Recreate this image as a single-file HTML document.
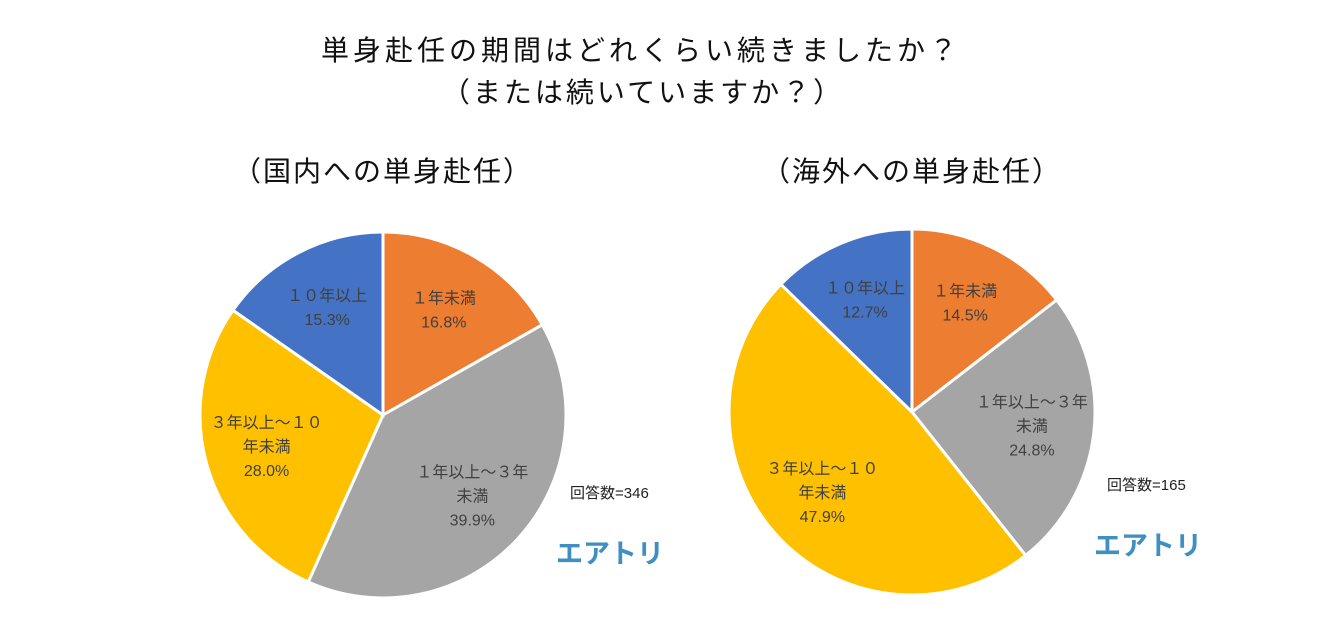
<!DOCTYPE html>
<html><head><meta charset="utf-8">
<style>
body{margin:0;background:#fff;}
svg{display:block;font-family:"Liberation Sans","Noto Sans CJK JP",sans-serif;}
</style></head><body>
<svg id="c" width="1318" height="617">
<text x="641" y="60" text-anchor="middle" font-size="28" letter-spacing="4" fill="#111">単身赴任の期間はどれくらい続きましたか？</text>
<text x="643" y="102" text-anchor="middle" font-size="28" letter-spacing="3" fill="#111">（または続いていますか？）</text>
<text x="383" y="181" text-anchor="middle" font-size="28" letter-spacing="2" fill="#111">（国内への単身赴任）</text>
<text x="912" y="181" text-anchor="middle" font-size="28" letter-spacing="2" fill="#111">（海外への単身赴任）</text>
<text x="570" y="498" font-size="15" fill="#222">回答数=346</text>
<text x="1107" y="490" font-size="15" fill="#222">回答数=165</text>
<text x="556" y="563" font-size="27" font-weight="bold" fill="#3f8fc0">エアトリ</text>
<text x="1094" y="555" font-size="27" font-weight="bold" fill="#3f8fc0">エアトリ</text>
<g id="pies"></g>
</svg>
<script>
const categories = [["１年未満"],["１年以上～３年","未満"],["３年以上～１０","年未満"],["１０年以上"]];
const colors = ["#ed7d31","#a5a5a5","#ffc000","#4472c4"];
const domesticValues = [16.8, 39.9, 28.0, 15.3];
const overseasValues = [14.5, 24.8, 47.9, 12.7];
const NS="http://www.w3.org/2000/svg";
const g=document.getElementById('pies');
function drawPie(vals,cx,cy,r,name){
  const total=vals.reduce((a,b)=>a+b,0);
  let start=0;
  vals.forEach((v,i)=>{
    const a0=start/total*2*Math.PI, a1=(start+v)/total*2*Math.PI;
    start+=v;
    const x0=cx+r*Math.sin(a0), y0=cy-r*Math.cos(a0);
    const x1=cx+r*Math.sin(a1), y1=cy-r*Math.cos(a1);
    const p=document.createElementNS(NS,'path');
    p.setAttribute('d',`M${cx},${cy}L${x0},${y0}A${r},${r} 0 ${a1-a0>Math.PI?1:0} 1 ${x1},${y1}Z`);
    p.setAttribute('fill',colors[i]);p.setAttribute('stroke','#fff');p.setAttribute('stroke-width','3');
    
    
    g.appendChild(p);
    const am=(a0+a1)/2, lr=r*0.66;
    const lx=cx+lr*Math.sin(am), ly=cy-lr*Math.cos(am);
    const lines=categories[i].concat([v.toFixed(1)+'%']);
    const t=document.createElementNS(NS,'text');
    t.setAttribute('text-anchor','middle');t.setAttribute('font-size','16');t.setAttribute('fill','#404040');
    
    
    lines.forEach((s,k)=>{
      const ts=document.createElementNS(NS,'tspan');
      ts.setAttribute('x',lx);ts.setAttribute('y',ly+5+(k-(lines.length-1)/2)*24);
      ts.textContent=s;t.appendChild(ts);
    });
    g.appendChild(t);
  });
}
drawPie(domesticValues,383,415,183,'domestic');
drawPie(overseasValues,912,412,183,'overseas');
</script>
</body></html>
